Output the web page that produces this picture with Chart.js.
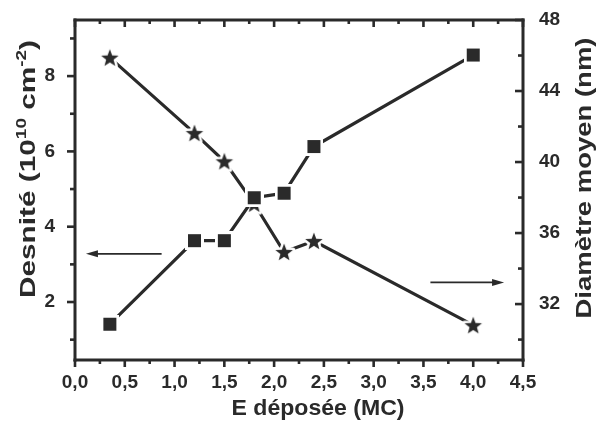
<!DOCTYPE html>
<html>
<head>
<meta charset="utf-8">
<script src="https://cdn.jsdelivr.net/npm/chart.js@4.4.0/dist/chart.umd.min.js"></script>
<style>
html, body { margin: 0; padding: 0; background: #fff; }
#wrap { width: 596px; height: 421px; }
</style>
</head>
<body>
<div id="wrap"><canvas id="c" width="596" height="421"></canvas></div>
<script>
// data
var xDepose = [0.35, 1.2, 1.5, 1.8, 2.1, 2.4, 4.0];
var densite = [1.41, 3.63, 3.63, 4.77, 4.89, 6.13, 8.56];
var diametre = [45.88, 41.63, 40.04, 37.65, 34.93, 35.55, 30.81];

var xTicks = [0, 0.5, 1.0, 1.5, 2.0, 2.5, 3.0, 3.5, 4.0, 4.5];
var xMinor = [0.25, 0.75, 1.25, 1.75, 2.25, 2.75, 3.25, 3.75, 4.25];
var yTicks = [2, 4, 6, 8];
var yMinor = [1, 3, 5, 7, 9];
var y2Ticks = [32, 36, 40, 44, 48];
var y2Minor = [30, 34, 38, 42, 46];

var INK = '#2a2a2a';
var FONT = '"Liberation Sans", Arial, sans-serif';

// markers with a white halo so the line stops short of them
function squareMarker() {
    var c = document.createElement('canvas');
    c.width = 19; c.height = 19;
    var g = c.getContext('2d');
    g.fillStyle = '#fff';
    g.fillRect(0, 0, 19, 19);
    g.fillStyle = INK;
    g.fillRect(3, 3, 13, 13);
    return c;
}

function starPath(g, cx, cy, ro, ri) {
    g.beginPath();
    for (var i = 0; i < 10; i++) {
        var r = i % 2 ? ri : ro;
        var a = -Math.PI / 2 + i * Math.PI / 5;
        var px = cx + r * Math.cos(a), py = cy + r * Math.sin(a);
        if (i === 0) g.moveTo(px, py); else g.lineTo(px, py);
    }
    g.closePath();
}

function starMarker() {
    var c = document.createElement('canvas');
    c.width = 26; c.height = 26;
    var g = c.getContext('2d');
    starPath(g, 13, 13.8, 9.2, 3.9);
    g.strokeStyle = '#fff';
    g.lineWidth = 5;
    g.lineJoin = 'round';
    g.stroke();
    g.fillStyle = INK;
    g.fill();
    return c;
}

function fixTicks(list) {
    return function (scale) {
        scale.ticks = list.map(function (v) { return { value: v }; });
    };
}

function noPad(s) {
    s.paddingTop = 0; s.paddingBottom = 0;
    s.paddingLeft = 0; s.paddingRight = 0;
}

function drawFitted(ctx, parts, x, y, rot, target) {
    // parts: [text, size, raise]
    var total = 0;
    parts.forEach(function (p) {
        ctx.font = 'bold ' + p[1] + 'px ' + FONT;
        total += ctx.measureText(p[0]).width;
    });
    var k = target / total;
    ctx.save();
    ctx.translate(x, y);
    ctx.rotate(rot);
    ctx.scale(k, 1);
    ctx.textBaseline = 'middle';
    ctx.textAlign = 'left';
    ctx.fillStyle = INK;
    var cx = -total / 2;
    parts.forEach(function (p) {
        ctx.font = 'bold ' + p[1] + 'px ' + FONT;
        ctx.fillText(p[0], cx, -(p[2] || 0));
        cx += ctx.measureText(p[0]).width;
    });
    ctx.restore();
}

function arrow(ctx, x1, y1, x2, y2) {
    ctx.save();
    ctx.strokeStyle = INK;
    ctx.fillStyle = INK;
    ctx.lineWidth = 1.8;
    var dir = x2 > x1 ? 1 : -1;
    ctx.beginPath();
    ctx.moveTo(x1, y1);
    ctx.lineTo(x2 - dir * 8, y2);
    ctx.stroke();
    ctx.beginPath();
    ctx.moveTo(x2, y2);
    ctx.lineTo(x2 - dir * 12, y2 - 3.5);
    ctx.lineTo(x2 - dir * 12, y2 + 3.5);
    ctx.closePath();
    ctx.fill();
    ctx.restore();
}

var frame = {
    id: 'frame',
    afterDraw: function (chart) {
        var ctx = chart.ctx, a = chart.chartArea;
        var sx = chart.scales.x, sy = chart.scales.y, sy2 = chart.scales.y2;
        var w = 3, h = w / 2;
        ctx.save();
        ctx.fillStyle = INK;
        // box as filled bars
        ctx.fillRect(a.left - h, a.top - h, a.right - a.left + w, w);
        ctx.fillRect(a.left - h, a.bottom - h, a.right - a.left + w, w);
        ctx.fillRect(a.left - h, a.top - h, w, a.bottom - a.top + w);
        ctx.fillRect(a.right - h, a.top - h, w, a.bottom - a.top + w);

        var t = 2.6, th = t / 2;
        // bottom (outward) and top (inward)
        xTicks.forEach(function (v) {
            var p = sx.getPixelForValue(v);
            ctx.fillRect(p - th, a.bottom, t, 7);
            ctx.fillRect(p - th, a.top, t, 7);
        });
        xMinor.forEach(function (v) {
            var p = sx.getPixelForValue(v);
            ctx.fillRect(p - th, a.bottom, t, 4);
            ctx.fillRect(p - th, a.top, t, 4);
        });
        // left (outward)
        yTicks.forEach(function (v) {
            var p = sy.getPixelForValue(v);
            ctx.fillRect(a.left - 8, p - th, 8, t);
        });
        yMinor.forEach(function (v) {
            var p = sy.getPixelForValue(v);
            ctx.fillRect(a.left - 5, p - th, 5, t);
        });
        // right (inward)
        y2Ticks.forEach(function (v) {
            var p = sy2.getPixelForValue(v);
            ctx.fillRect(a.right - 8, p - th, 8, t);
        });
        y2Minor.forEach(function (v) {
            var p = sy2.getPixelForValue(v);
            ctx.fillRect(a.right - 5, p - th, 5, t);
        });
        ctx.restore();

        // arrows pointing to each series' axis
        var ly = sy.getPixelForValue(3.28);
        arrow(ctx, sx.getPixelForValue(0.87), ly, sx.getPixelForValue(0.11), ly);
        var ry = sy2.getPixelForValue(33.22);
        arrow(ctx, sx.getPixelForValue(3.57), ry, sx.getPixelForValue(4.31), ry);

        // axis titles
        drawFitted(ctx, [['E déposée (MC)', 22, 0]], 318, 409, 0, 173);
        drawFitted(ctx, [['Desnité (10', 22, 0], ['10', 14, 7], [' cm', 22, 0], ['-2', 14, 7], [')', 22, 0]],
            29, 169, -Math.PI / 2, 258);
        drawFitted(ctx, [['Diamètre moyen (nm)', 22, 0]], 585, 178, -Math.PI / 2, 281);
    }
};

var tickFont = { family: FONT, size: 19, weight: 'bold' };

new Chart(document.getElementById('c'), {
    type: 'line',
    data: {
        datasets: [
            {
                label: 'Densité',
                data: xDepose.map(function (x, i) { return { x: x, y: densite[i] }; }),
                yAxisID: 'y',
                borderColor: INK,
                borderWidth: 3.2,
                pointStyle: squareMarker(),
                pointRadius: 8,
                fill: false
            },
            {
                label: 'Diamètre moyen',
                data: xDepose.map(function (x, i) { return { x: x, y: diametre[i] }; }),
                yAxisID: 'y2',
                borderColor: INK,
                borderWidth: 3.2,
                pointStyle: starMarker(),
                pointRadius: 8,
                fill: false
            }
        ]
    },
    options: {
        responsive: false,
        animation: false,
        layout: { padding: { top: 20, left: 0, right: 0, bottom: 0 } },
        plugins: { legend: { display: false }, tooltip: { enabled: false } },
        scales: {
            x: {
                type: 'linear', min: 0, max: 4.5,
                afterBuildTicks: fixTicks(xTicks),
                afterFit: function (s) { s.height = 61; noPad(s); },
                grid: { display: false },
                border: { display: false },
                ticks: {
                    font: tickFont, color: INK, padding: 3, maxRotation: 0,
                    callback: function (v) { return v.toFixed(1).replace('.', ','); }
                }
            },
            y: {
                type: 'linear', position: 'left', min: 0.46, max: 9.49,
                afterBuildTicks: fixTicks(yTicks),
                afterFit: function (s) { s.width = 75; noPad(s); },
                grid: { display: false },
                border: { display: false },
                ticks: { font: tickFont, color: INK, padding: 12 }
            },
            y2: {
                type: 'linear', position: 'right', min: 28.85, max: 48,
                afterBuildTicks: fixTicks(y2Ticks),
                afterFit: function (s) { s.width = 73; noPad(s); },
                grid: { display: false },
                border: { display: false },
                ticks: { font: tickFont, color: INK, padding: 8 }
            }
        }
    },
    plugins: [frame]
});
</script>
</body>
</html>
